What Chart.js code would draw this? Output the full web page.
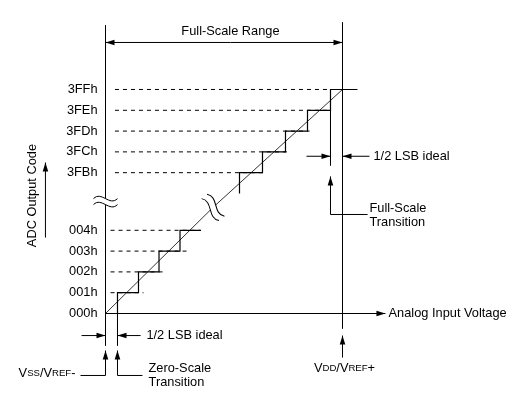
<!DOCTYPE html>
<html>
<head>
<meta charset="utf-8">
<script src="https://cdn.jsdelivr.net/npm/chart.js@4.4.0/dist/chart.umd.min.js"></script>
<style>
  html, body { margin: 0; padding: 0; background: #fff; }
  canvas { display: block; }
</style>
</head>
<body>
<canvas id="adcChart" width="524" height="396"></canvas>
<script>
// x in LSB of analog input, y in output code steps
const codeLabels = ['000h', '001h', '002h', '003h', '004h', '3FBh', '3FCh', '3FDh', '3FEh', '3FFh'];
const codePos = [0, 1, 2, 3, 4, 6.77, 7.77, 8.77, 9.77, 10.77];
const lowTransitions = [0.571, 1.571, 2.548, 3.548];
const lowStepEnd = 4.55;
const highTransitions = [6.381, 7.476, 8.571, 9.619, 10.714];
const highStepEnd = 12.0;
const dashEnd = [1.81, 2.76, 3.9, 4.52, 7.6, 8.7, 9.72, 10.71, 10.71];
const idealX = [0, 5.12, 11.286];
const idealY = [0, 5.1, 10.77];
const fullScale = 11.286;

const FONT = '"Liberation Sans", Arial, sans-serif';
const FS = 12.8;   // main text size
const SC = 9.6;    // small caps size

function stairs(trans, codes, end, startY) {
  const pts = [{ x: trans[0], y: startY }];
  trans.forEach(function(t, i) {
    pts.push({ x: t, y: codes[i] });
    pts.push({ x: i + 1 < trans.length ? trans[i + 1] : end, y: codes[i] });
  });
  return pts;
}

const lowStair = stairs(lowTransitions, codePos.slice(1, 5), lowStepEnd, 0);
const highStair = stairs(highTransitions, codePos.slice(5), highStepEnd, codePos[5] - 1);
const ideal = idealX.map(function(x, i) { return { x: x, y: idealY[i] }; });

function solid(data, width) {
  return { data: data, borderColor: '#000', borderWidth: width || 1, showLine: true, pointRadius: 0, fill: false };
}

const datasets = [];
// reference dashed lines for each code
codePos.forEach(function(y, i) {
  if (i === 0) return;
  const start = i < 5 ? 0.24 : 0.45;
  datasets.push({ data: [{ x: start, y: y }, { x: dashEnd[i - 1], y: y }], borderColor: '#000', borderWidth: 1,
    borderDash: [4, 4], showLine: true, pointRadius: 0 });
});
datasets.push(solid(lowStair, 1.2));
datasets.push(solid(highStair, 1.2));
datasets.push(Object.assign(solid(ideal, 1), { borderColor: '#333' }));
datasets.push(solid([{ x: 0, y: 13.85 }, { x: 0, y: -1.54 }]));                       // y axis
datasets.push(solid([{ x: fullScale, y: 13.99 }, { x: fullScale, y: -0.72 }]));       // VDD line
datasets.push(solid([{ x: lowTransitions[0], y: 0 }, { x: lowTransitions[0], y: -1.54 }]));
datasets.push(solid([{ x: highTransitions[4], y: codePos[8] }, { x: highTransitions[4], y: 7.12 }]));

// annotation arrows, head at last point
const arrows = [
  [[0, 0], [13.33, 0]],
  [[5.95, 13.03], [0, 13.03]],
  [[5.95, 13.03], [fullScale, 13.03]],
  [[-1.14, -1.06], [0, -1.06]],
  [[1.67, -1.06], [0.571, -1.06]],
  [[9.57, 7.56], [10.714, 7.56]],
  [[12.57, 7.56], [fullScale, 7.56]],
  [[-1.19, -2.98], [0, -2.98], [0, -1.78]],
  [[1.76, -2.98], [0.571, -2.98], [0.571, -1.78]],
  [[fullScale, -2.12], [fullScale, -1.06]],
  [[12.48, 4.76], [10.714, 4.76], [10.714, 6.59]],
  [[-2.86, 3.65], [-2.86, 7.26]]
];

const texts = [
  { t: 'Full-Scale Range', x: 5.95, y: 13.56, align: 'center' },
  { t: '1/2 LSB ideal', x: 1.95, y: -1.06, align: 'left' },
  { t: '1/2 LSB ideal', x: 12.76, y: 7.56, align: 'left' },
  { t: 'Full-Scale', x: 12.57, y: 5.05, align: 'left' },
  { t: 'Transition', x: 12.57, y: 4.38, align: 'left' },
  { t: 'Analog Input Voltage', x: 13.48, y: 0, align: 'left' },
  { t: 'Zero-Scale', x: 2.05, y: -2.64, align: 'left' },
  { t: 'Transition', x: 2.05, y: -3.32, align: 'left' }
];

function drawArrow(ctx, pts) {
  ctx.beginPath();
  ctx.moveTo(pts[0][0], pts[0][1]);
  for (let i = 1; i < pts.length; i++) ctx.lineTo(pts[i][0], pts[i][1]);
  ctx.stroke();
  const a = pts[pts.length - 2], b = pts[pts.length - 1];
  const ang = Math.atan2(b[1] - a[1], b[0] - a[0]);
  ctx.save();
  ctx.translate(b[0], b[1]);
  ctx.rotate(ang);
  ctx.beginPath();
  ctx.moveTo(0, 0);
  ctx.lineTo(-9, -2.8);
  ctx.lineTo(-9, 2.8);
  ctx.closePath();
  ctx.fill();
  ctx.restore();
}

function drawBreak(ctx, cx, cy, ang, len, gap) {
  ctx.save();
  ctx.translate(cx, cy);
  ctx.rotate(ang);
  const h = len / 2;
  // white out between the two curves
  ctx.beginPath();
  ctx.moveTo(-h, -gap);
  ctx.bezierCurveTo(-h / 3, -gap - 8, h / 3, -gap + 8, h, -gap);
  ctx.lineTo(h, gap);
  ctx.bezierCurveTo(h / 3, gap + 8, -h / 3, gap - 8, -h, gap);
  ctx.closePath();
  ctx.fillStyle = '#fff';
  ctx.fill();
  ctx.beginPath();
  [-gap, gap].forEach(function(o) {
    ctx.moveTo(-h, o);
    ctx.bezierCurveTo(-h / 3, o - 8, h / 3, o + 8, h, o);
  });
  ctx.strokeStyle = '#000';
  ctx.lineWidth = 1;
  ctx.stroke();
  ctx.restore();
}

function drawMixed(ctx, parts, x, y, align) {
  let w = 0;
  parts.forEach(function(p) { ctx.font = p[1] + 'px ' + FONT; w += ctx.measureText(p[0]).width; });
  let cx = align === 'right' ? x - w : align === 'center' ? x - w / 2 : x;
  ctx.textAlign = 'left';
  parts.forEach(function(p) {
    ctx.font = p[1] + 'px ' + FONT;
    ctx.fillText(p[0], cx, y);
    cx += ctx.measureText(p[0]).width;
  });
}

const diagramPlugin = {
  id: 'diagram',
  afterDatasetsDraw(chart) {
    const ctx = chart.ctx;
    const sx = chart.scales.x, sy = chart.scales.y;
    const px = function(v) { return sx.getPixelForValue(v); };
    const py = function(v) { return sy.getPixelForValue(v); };
    ctx.save();
    ctx.strokeStyle = '#000';
    ctx.fillStyle = '#000';
    ctx.lineWidth = 1;
    arrows.forEach(function(a) {
      drawArrow(ctx, a.map(function(p) { return [px(p[0]), py(p[1])]; }));
    });

    // axis breaks
    drawBreak(ctx, px(0), py(5.38), 0, 24, 3);
    drawBreak(ctx, px(5.12), py(5.1), 0.9, 28, 3.5);

    ctx.fillStyle = '#000';
    ctx.textBaseline = 'middle';
    ctx.font = FS + 'px ' + FONT;
    ctx.textAlign = 'right';
    codeLabels.forEach(function(lbl, i) {
      ctx.fillText(lbl, px(-0.38), py(codePos[i]));
    });
    texts.forEach(function(t) {
      ctx.textAlign = t.align;
      ctx.fillText(t.t, px(t.x), py(t.y));
    });

    drawMixed(ctx, [['V', FS], ['SS', SC], ['/V', FS], ['REF', SC], ['-', FS]], px(-1.43), py(-2.9), 'right');
    drawMixed(ctx, [['V', FS], ['DD', SC], ['/V', FS], ['REF', SC], ['+', FS]], px(fullScale) + 2, py(-2.64), 'center');

    ctx.save();
    ctx.translate(px(-3.49), py(5.67));
    ctx.rotate(-Math.PI / 2);
    ctx.textAlign = 'center';
    ctx.font = FS + 'px ' + FONT;
    ctx.fillText('ADC Output Code', 0, 0);
    ctx.restore();
    ctx.restore();
  }
};

new Chart(document.getElementById('adcChart'), {
  type: 'scatter',
  data: { datasets: datasets },
  options: {
    responsive: false,
    animation: false,
    devicePixelRatio: 1,
    layout: { padding: 0 },
    plugins: { legend: { display: false }, tooltip: { enabled: false } },
    elements: { line: { tension: 0 } },
    scales: {
      x: { type: 'linear', display: false, min: -105.5 / 21, max: 418.5 / 21 },
      y: { type: 'linear', display: false, min: -82.5 / 20.8, max: 313.5 / 20.8 }
    }
  },
  plugins: [diagramPlugin]
});
</script>
</body>
</html>
